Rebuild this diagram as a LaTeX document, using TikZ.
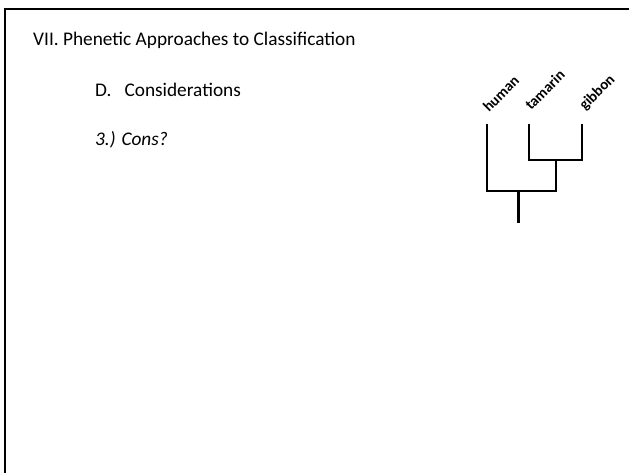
\documentclass[tikz,border=0pt]{standalone}
\usepackage{fontspec}
\setmainfont{Carlito}
\begin{document}
\begin{tikzpicture}[x=1pt, y=-1pt,
        heading/.style={anchor=base west, inner sep=0pt, font=\fontsize{19.3}{22}\selectfont},
        taxon/.style={anchor=base west, inner sep=0pt, rotate=45, font=\fontsize{15}{17}\selectfont\bfseries},
        branch/.style={line width=1.5pt},
        stem/.style={line width=3pt}]
        \useasboundingbox (0, 0) rectangle (629, 473);

        % slide frame
        \draw[line width=2.5pt] (5, 473) -- (5, 9) -- (629, 9);

        \node[heading] (title) at (33, 46) {VII. Phenetic Approaches to Classification};
        \node[heading] (section) at (95, 97) {D.\ \ \ Considerations};
        \node[heading, font=\fontsize{19.3}{22}\selectfont\itshape] (cons) at (95, 146) {3.) Cons?};

        % tree
        \coordinate (human) at (487, 124);
        \coordinate (tamarin) at (529, 124);
        \coordinate (gibbon) at (582, 124);
        \coordinate (tg) at (556, 160);
        \coordinate (htg) at (518, 191);
        \coordinate (root) at (518, 223);

        \node[taxon] (humanlbl) at (489, 113) {human};
        \node[taxon] (tamarinlbl) at (531, 111) {tamarin};
        \node[taxon] (gibbonlbl) at (585, 111) {gibbon};

        \draw[branch] (tamarin) |- (tg) -| (gibbon);
        \draw[branch] (human) |- (htg) -| (tg);
        \draw[stem] (htg) -- (root);
    \end{tikzpicture}
\end{document}
